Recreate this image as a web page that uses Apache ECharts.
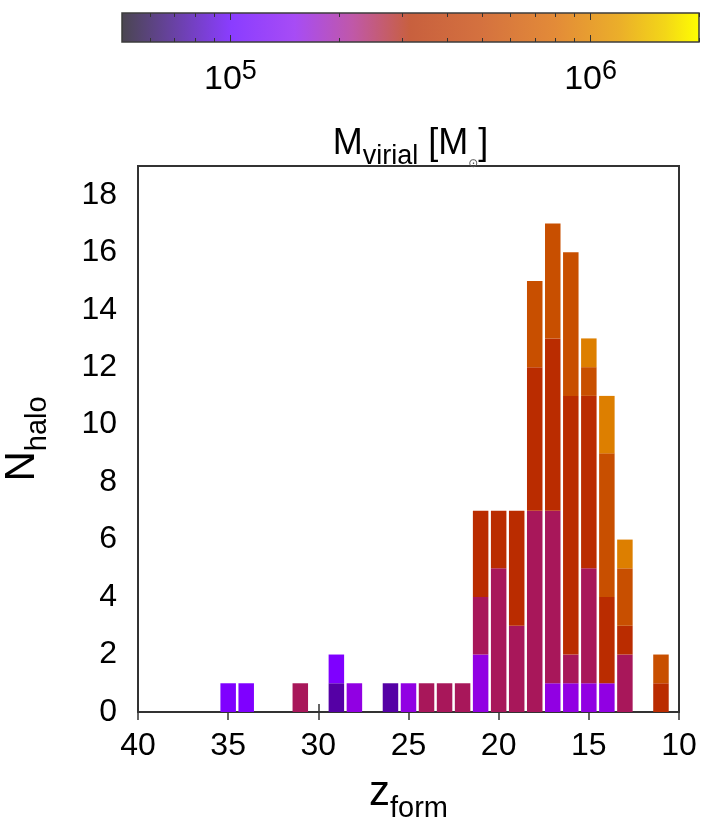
<!DOCTYPE html>
<html><head><meta charset="utf-8">
<script src="https://cdn.jsdelivr.net/npm/echarts@6/dist/echarts.min.js"></script>
<style>html,body{margin:0;padding:0;background:#fff}#c{width:702px;height:827px}</style>
</head><body><div id="c"></div>
<script>
// ---- data ----
// z_form bins along the x axis (left to right)
const zCategories = [40,39,38,37,36,35,34,33,32,31,30,29,28,27,26,25,24,23,22,21,20,19,18,17,16,15,14,13,12,11,10];
const zBins = [35,34,31,29,28,26,25,24,23,22,21,20,19,18,17,16,15,14,13,11];
// halo counts per mass class (low mass -> high mass), aligned with zBins
const massDarkPurple  = [0,0,0,1,0,1,0,0,0,0,0,0,0,0,0,0,0,0,0,0];
const massViolet      = [1,1,0,1,0,0,0,0,0,0,0,0,0,0,0,0,0,0,0,0];
const massPurple      = [0,0,0,0,1,0,1,0,0,0,2,0,0,0,1,1,1,1,0,0];
const massCrimson     = [0,0,1,0,0,0,0,1,1,1,2,5,3,7,6,1,4,0,2,0];
const massRed         = [0,0,0,0,0,0,0,0,0,0,3,2,4,5,6,9,6,3,1,1];
const massOrange      = [0,0,0,0,0,0,0,0,0,0,0,0,0,3,4,5,1,5,2,1];
const massLightOrange = [0,0,0,0,0,0,0,0,0,0,0,0,0,0,0,0,1,2,1,0];
const yTicks = [0,2,4,6,8,10,12,14,16,18];
const cbRange = [5e4, 2e6];
const cbMajor = [1e5, 1e6];
const cbMinor = [6e4,7e4,8e4,9e4,2e5,3e5,4e5,5e5,6e5,7e5,8e5,9e5,2e6];

// ---- chart ----
const FONT = '"Liberation Sans", Arial, Helvetica, sans-serif';
const chart = echarts.init(document.getElementById('c'), null, {renderer: 'canvas'});
const classes = [
  {name: 'c1', values: massDarkPurple,  color: '#5500a5'},
  {name: 'c2', values: massViolet,      color: '#7f00ff'},
  {name: 'c3', values: massPurple,      color: '#9100e3'},
  {name: 'c4', values: massCrimson,     color: '#a8175a'},
  {name: 'c5', values: massRed,         color: '#ba2c00'},
  {name: 'c6', values: massOrange,      color: '#c84f00'},
  {name: 'c7', values: massLightOrange, color: '#dd7f00'}
];
const series = classes.map(c => ({
  type: 'bar', name: c.name, stack: 'all', xAxisIndex: 0, yAxisIndex: 0,
  barWidth: 15.5, silent: true,
  itemStyle: {color: c.color},
  data: zCategories.map(z => {
    const i = zBins.indexOf(z);
    return i < 0 ? 0 : c.values[i];
  })
}));

const tickStyle = {color: '#333', width: 1.5};
const lg = v => Math.log10(v);
const cbGrad = {type: 'linear', x: 0, y: 0, x2: 1, y2: 0, colorStops: [
  {offset: 0, color: '#4a4650'},
  {offset: 0.19, color: '#8a3dff'},
  {offset: 0.30, color: '#a74cf5'},
  {offset: 0.40, color: '#c058a8'},
  {offset: 0.50, color: '#c8603e'},
  {offset: 0.62, color: '#d4713f'},
  {offset: 0.75, color: '#e38b38'},
  {offset: 0.86, color: '#ebae2a'},
  {offset: 0.94, color: '#f3d618'},
  {offset: 1, color: '#ffff00'}
]};

const option = {
  animation: false,
  backgroundColor: '#fff',
  grid: [
    {left: 138, top: 166, width: 541, height: 546, show: true, backgroundColor: 'transparent',
     borderColor: '#333', borderWidth: 2, outerBoundsMode: 'none', containLabel: false},
    {left: 122, top: 13, width: 577, height: 29, show: true, backgroundColor: cbGrad,
     borderColor: '#3c3c3c', borderWidth: 1.5, outerBoundsMode: 'none', containLabel: false}
  ],
  xAxis: [
    {gridIndex: 0, type: 'category', data: zCategories, boundaryGap: false, position: 'bottom',
     axisLine: {show: false}, splitLine: {show: false},
     axisTick: {inside: true, length: 8, lineStyle: tickStyle, interval: 4},
     axisLabel: {interval: 4, fontSize: 32, color: '#000', fontFamily: FONT, margin: 18},
     name: '{z|z}{s|form}', nameLocation: 'middle', nameGap: 60,
     nameTextStyle: {rich: {
       z: {fontSize: 42, fontFamily: FONT, color: '#000', padding: [0,0,9,0], verticalAlign: 'top'},
       s: {fontSize: 29, fontFamily: FONT, color: '#000', verticalAlign: 'bottom'}
     }}},
    {gridIndex: 0, type: 'category', data: zCategories, boundaryGap: false, position: 'top',
     axisLine: {show: false}, splitLine: {show: false},
     axisTick: {inside: true, length: 8, lineStyle: tickStyle, interval: 4},
     axisLabel: {show: false}},
    {gridIndex: 1, type: 'value', min: lg(cbRange[0]), max: lg(cbRange[1]), position: 'bottom',
     axisLine: {show: false}, splitLine: {show: false},
     axisTick: {inside: true, length: 7, lineStyle: {color: '#333', width: 1}, customValues: cbMajor.map(lg)},
     axisLabel: {customValues: cbMajor.map(lg), margin: 16,
       formatter: v => '{b|10}{p|' + Math.round(v) + '}',
       rich: {
         b: {fontSize: 34, fontFamily: FONT, color: '#000', padding: [5,0,0,0], verticalAlign: 'bottom'},
         p: {fontSize: 27, fontFamily: FONT, color: '#000', verticalAlign: 'top'}
       }},
     name: '{m|M}{s|virial}{m| [M}{o|⊙}{m|]}', nameLocation: 'middle', nameGap: 84,
     nameTextStyle: {rich: {
       m: {fontSize: 36, fontFamily: FONT, color: '#000', padding: [0,0,8,0], verticalAlign: 'top'},
       s: {fontSize: 27, fontFamily: FONT, color: '#000', verticalAlign: 'bottom'},
       o: {fontSize: 12, fontFamily: 'DejaVu Sans', color: '#555', verticalAlign: 'bottom'}
     }}},
    {gridIndex: 1, type: 'value', min: lg(cbRange[0]), max: lg(cbRange[1]), position: 'bottom',
     axisLine: {show: false}, splitLine: {show: false},
     axisTick: {inside: true, length: 4, lineStyle: {color: '#333', width: 1}, customValues: cbMinor.map(lg)},
     axisLabel: {show: false}},
    {gridIndex: 1, type: 'value', min: lg(cbRange[0]), max: lg(cbRange[1]), position: 'top',
     axisLine: {show: false}, splitLine: {show: false},
     axisTick: {inside: true, length: 7, lineStyle: {color: '#333', width: 1}, customValues: cbMajor.map(lg)},
     axisLabel: {show: false}},
    {gridIndex: 1, type: 'value', min: lg(cbRange[0]), max: lg(cbRange[1]), position: 'top',
     axisLine: {show: false}, splitLine: {show: false},
     axisTick: {inside: true, length: 4, lineStyle: {color: '#333', width: 1}, customValues: cbMinor.map(lg)},
     axisLabel: {show: false}}
  ],
  yAxis: [
    {gridIndex: 0, type: 'value', min: 0, max: 19, interval: 1, position: 'left',
     axisLine: {show: false}, splitLine: {show: false},
     axisTick: {inside: true, length: 8, lineStyle: tickStyle, customValues: yTicks},
     axisLabel: {customValues: yTicks, fontSize: 32, color: '#000', fontFamily: FONT, margin: 21},
     name: '{n|N}{s|halo}', nameLocation: 'middle', nameRotate: 90, nameGap: 86,
     nameTextStyle: {rich: {
       n: {fontSize: 42, fontFamily: FONT, color: '#000', padding: [0,0,9,0], verticalAlign: 'top'},
       s: {fontSize: 29, fontFamily: FONT, color: '#000', verticalAlign: 'bottom'}
     }}},
    {gridIndex: 0, type: 'value', min: 0, max: 19, interval: 1, position: 'right',
     axisLine: {show: false}, splitLine: {show: false},
     axisTick: {inside: true, length: 8, lineStyle: tickStyle, customValues: yTicks},
     axisLabel: {show: false}},
    {gridIndex: 1, type: 'value', min: 0, max: 1, show: false}
  ],
  series: series
};
chart.setOption(option);
</script>
</body></html>
